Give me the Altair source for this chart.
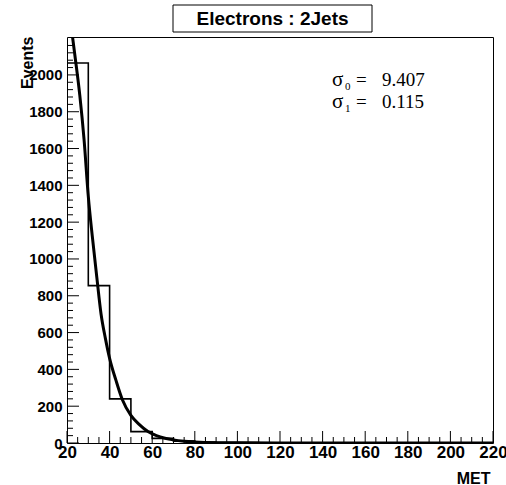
import altair as alt
import pandas as pd

# Histogram (MET bins of width 10, step outline)
bin_lo = [20, 30, 40, 50, 60, 70, 80, 90, 100, 110, 120, 220]
bin_counts = [2065, 855, 240, 62, 25, 10, 5, 3, 2, 0, 0, 0]

# Fitted curve
fit_x = [22.5, 24, 26, 28, 30, 32, 34, 36, 38, 40, 43, 46, 50, 54, 58, 62, 66, 70, 75, 80, 90, 100, 120, 150, 220]
fit_y = [2215, 2080, 1890, 1650, 1340, 1110, 900, 700, 570, 460, 340, 235, 150, 100, 62, 40, 26, 17, 10, 6, 2, 1, 0, 0, 0]

y_labels = list(range(0, 2001, 200))
x_labels = list(range(20, 221, 20))
y_minor = [v for v in range(0, 2201, 40) if v % 200 != 0]
x_minor = [v for v in range(20, 221, 5) if v % 20 != 0]

title_text = "Electrons : 2Jets"
sigma_names = ["σ", "σ"]
sigma_subs = ["0", "1"]
sigma_vals = ["9.407", "0.115"]

W, H = 426, 406
YMAX = 2206
SANS = "Liberation Sans"

xs = alt.Scale(domain=[20, 220], nice=False, zero=False)
ys = alt.Scale(domain=[0, YMAX], nice=False, zero=False)

COMMON = dict(labelFont=SANS, labelFontWeight="bold",
              labelColor="black", ticks=False, domain=False, grid=False,
              titleFont=SANS, titleFontWeight="bold",
              titleColor="black")

ax_x = alt.Axis(values=x_labels, labelFontSize=17, labelPadding=1, labelFlush=False, labelOverlap=False,
                labelBound=False, title="MET", titleFontSize=16, titleAnchor="end", titleAlign="right",
                titleX=W - 3, titleY=40, titleBaseline="alphabetic", format="d", **COMMON)
ax_y = alt.Axis(values=y_labels, labelFontSize=15, labelPadding=5, labelOverlap=False, title="Events",
                titleFontSize=16, titleAngle=270, titleAlign="right", titleX=-35, titleY=-1,
                titleBaseline="alphabetic", format="d", **COMMON)

hist_df = pd.DataFrame({"met": bin_lo, "n": bin_counts})
fit_df = pd.DataFrame({"met": fit_x, "n": fit_y})

hist = alt.Chart(hist_df).mark_line(interpolate="step-after", color="black", strokeWidth=1.6).encode(
    x=alt.X("met:Q", scale=xs, axis=ax_x),
    y=alt.Y("n:Q", scale=ys, axis=ax_y),
)
fit = alt.Chart(fit_df).mark_line(color="black", strokeWidth=3, clip=True, interpolate="monotone").encode(
    x=alt.X("met:Q", scale=xs, axis=ax_x),
    y=alt.Y("n:Q", scale=ys, axis=ax_y),
)

ymaj = alt.Chart(pd.DataFrame({"n": y_labels})).mark_rule(color="black", strokeWidth=1).encode(
    y=alt.Y("n:Q", scale=ys, axis=ax_y), x=alt.value(0), x2=alt.value(12))
ymin = alt.Chart(pd.DataFrame({"n": y_minor})).mark_rule(color="black", strokeWidth=1, clip=True).encode(
    y=alt.Y("n:Q", scale=ys, axis=ax_y), x=alt.value(0), x2=alt.value(6))
xmaj = alt.Chart(pd.DataFrame({"met": x_labels})).mark_rule(color="black", strokeWidth=1).encode(
    x=alt.X("met:Q", scale=xs, axis=ax_x), y=alt.value(H), y2=alt.value(H - 12))
xmin = alt.Chart(pd.DataFrame({"met": x_minor})).mark_rule(color="black", strokeWidth=1).encode(
    x=alt.X("met:Q", scale=xs, axis=ax_x), y=alt.value(H), y2=alt.value(H - 6))

one = pd.DataFrame({"t": [title_text]})
tbox = alt.Chart(one).mark_rect(fill="white", stroke="black", strokeWidth=1).encode(
    x=alt.value(106), x2=alt.value(305), y=alt.value(-32), y2=alt.value(-5))
ttext = alt.Chart(one).mark_text(font=SANS, fontWeight="bold", fontSize=19,
                                 color="black", align="center", baseline="middle").encode(
    x=alt.value(205.5), y=alt.value(-18), text="t:N")

sig_df = pd.DataFrame({"s": sigma_names, "sub": sigma_subs, "v": sigma_vals,
                       "eq": ["=", "="], "row": [0, 1]})
serif = dict(font="Liberation Serif", fontSize=19, color="black", align="left", baseline="alphabetic")
sig_layers = []
for i in range(2):
    d = sig_df.iloc[[i]]
    yb = 49 + 22 * i
    sig_layers.append(alt.Chart(d).mark_text(font="Liberation Serif", fontSize=21, color="black",
                                             align="left", baseline="alphabetic").encode(
        x=alt.value(265), y=alt.value(yb), text="s:N"))
    sig_layers.append(alt.Chart(d).mark_text(font="Liberation Serif", fontSize=11, color="black",
                                             align="left", baseline="alphabetic").encode(
        x=alt.value(278), y=alt.value(yb + 4), text="sub:N"))
    sig_layers.append(alt.Chart(d).mark_text(**serif).encode(x=alt.value(289), y=alt.value(yb), text="eq:N"))
    sig_layers.append(alt.Chart(d).mark_text(**serif).encode(x=alt.value(315), y=alt.value(yb), text="v:N"))

chart = alt.layer(hist, fit, ymaj, ymin, xmaj, xmin, tbox, ttext, *sig_layers).properties(
    width=W, height=H,
    autosize=alt.AutoSizeParams(type="none"),
    padding={"left": 67, "top": 37, "right": 13, "bottom": 42},
    background="white",
).configure_view(stroke="black", strokeWidth=1)

chart.save("out.html", embed_options={"renderer": "svg", "actions": False})
